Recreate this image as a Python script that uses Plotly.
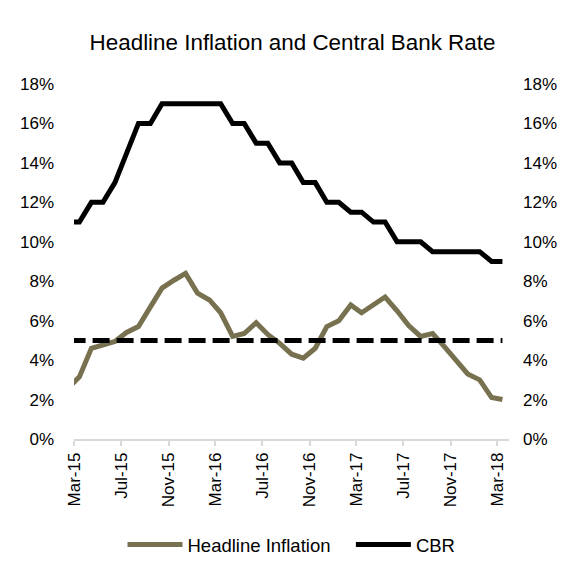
import pandas as pd
import plotly.graph_objects as go

# Monthly observations (plotted mid-month), Feb-15 .. Mar-18
months = (pd.date_range("2015-02-01", periods=38, freq="MS") + pd.Timedelta(days=14)).strftime("%Y-%m-%d").tolist()

headline_inflation = [2.6, 3.15, 4.6, 4.8, 4.95, 5.4, 5.7, 6.7, 7.65, 8.05, 8.4,
                      7.4, 7.05, 6.4, 5.2, 5.35, 5.9, 5.3, 4.85, 4.3, 4.1, 4.6, 5.7,
                      6.0, 6.8, 6.4, 6.8, 7.2, 6.5, 5.75, 5.2, 5.35, 4.7, 4.0, 3.3,
                      3.0, 2.1, 2.0]
cbr = [11, 11, 12, 12, 13, 14.5, 16, 16, 17, 17, 17,
       17, 17, 17, 16, 16, 15, 15, 14, 14, 13, 13, 12,
       12, 11.5, 11.5, 11, 11, 10, 10, 10, 9.5, 9.5, 9.5, 9.5,
       9.5, 9, 9]
target = [5] * len(months)

tick_dates = ["2015-03-01", "2015-07-01", "2015-11-01", "2016-03-01", "2016-07-01",
              "2016-11-01", "2017-03-01", "2017-07-01", "2017-11-01", "2018-03-01"]
tick_labels = ["Mar-15", "Jul-15", "Nov-15", "Mar-16", "Jul-16",
               "Nov-16", "Mar-17", "Jul-17", "Nov-17", "Mar-18"]
y_ticks = [0, 2, 4, 6, 8, 10, 12, 14, 16, 18]
y_labels = [f"{v}%" for v in y_ticks]

FONT = "Liberation Sans, Arial, sans-serif"

fig = go.Figure()
fig.add_trace(go.Scatter(x=months, y=target, mode="lines", yaxis="y2",
                         line=dict(color="black", width=5, dash="17px,7px"),
                         showlegend=False, hoverinfo="skip"))
fig.add_trace(go.Scatter(x=months, y=headline_inflation, mode="lines",
                         name="Headline Inflation\u00a0\u00a0\u00a0",
                         line=dict(color="#77714f", width=5)))
fig.add_trace(go.Scatter(x=months, y=cbr, mode="lines", name="CBR",
                         line=dict(color="black", width=5)))

# page is offset by the 8px body margin
W, H = 569, 571
ml, mr, mt, mb = 66, 68, 76, 140
pw, ph = W - ml - mr, H - mt - mb

fig.update_layout(
    width=W, height=H,
    margin=dict(l=ml, r=mr, t=mt, b=mb, pad=0),
    paper_bgcolor="white", plot_bgcolor="white",
    font=dict(family=FONT, size=17, color="black"),
    title=dict(text="Headline Inflation and Central Bank Rate",
               x=0.5, xanchor="center", y=1 - 34 / H, yanchor="middle",
               font=dict(family=FONT, size=22.4, color="black")),
    xaxis=dict(type="date", range=["2015-03-01", "2018-04-01"],
               tickmode="array", tickvals=tick_dates, ticktext=tick_labels,
               tickangle=-90, ticks="outside", ticklen=5, tickcolor="#d9d9d9",
               tickwidth=1.5, showline=True, linecolor="#d9d9d9", linewidth=1.5,
               showgrid=False, zeroline=False, fixedrange=True),
    yaxis=dict(range=[0, 18], tickmode="array", tickvals=y_ticks, ticktext=y_labels,
               showgrid=False, zeroline=False, showline=False,
               ticks="", ticklabelstandoff=19),
    yaxis2=dict(range=[0, 18], tickmode="array", tickvals=y_ticks, ticktext=y_labels,
                overlaying="y", side="right", anchor="x",
                showgrid=False, zeroline=False, showline=False,
                ticks="", ticklabelstandoff=13),
    legend=dict(orientation="h", x=0.5, xanchor="center",
                y=-(537 - (H - mb)) / ph, yanchor="middle",
                font=dict(family=FONT, size=18.5), itemwidth=55,
                bgcolor="rgba(0,0,0,0)"),
)

fig.write_html("out.html")
